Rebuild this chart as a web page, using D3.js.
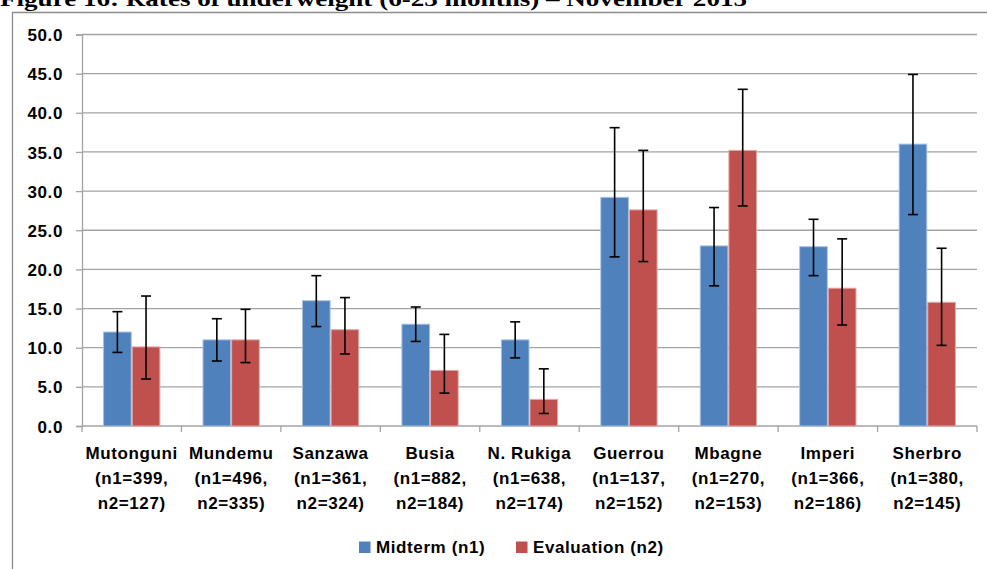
<!DOCTYPE html>
<html><head><meta charset="utf-8">
<script src="https://cdn.jsdelivr.net/npm/d3@7"></script>
<style>
html,body{margin:0;padding:0;background:#fff;}
svg{display:block;}
text{font-family:"Liberation Sans",Arial,sans-serif;font-weight:bold;fill:#000;}
</style></head>
<body>
<svg id="chart" width="987" height="569"></svg>
<script>
const categories = ["Mutonguni","Mundemu","Sanzawa","Busia","N. Rukiga","Guerrou","Mbagne","Imperi","Sherbro"];
const n1 = [399,496,361,882,638,137,270,366,380];
const n2 = [127,335,324,184,174,152,153,186,145];
const seriesNames = ["Midterm (n1)","Evaluation (n2)"];
const midterm    = [12.0, 11.0, 16.0, 13.0, 11.0, 29.2, 23.0, 22.9, 36.0];
const midLow     = [9.4, 8.3, 12.7, 10.8, 8.7, 21.6, 17.9, 19.2, 27.0];
const midHigh    = [14.6, 13.7, 19.2, 15.2, 13.3, 38.1, 27.9, 26.4, 44.9];
const evaluation = [10.1, 11.0, 12.3, 7.1, 3.4, 27.6, 35.2, 17.6, 15.8];
const evalLow    = [6.0, 8.1, 9.2, 4.2, 1.6, 21.0, 28.1, 12.9, 10.3];
const evalHigh   = [16.6, 14.9, 16.4, 11.7, 7.3, 35.2, 43.0, 23.9, 22.7];
const yTicks = [0,5,10,15,20,25,30,35,40,45,50];
const colors = ["#4F81BD","#C0504D"];
const strokes = ["#a7c0e0","#e0a9a7"];

const svg = d3.select("#chart");
const W = 987, H = 569;
const pLeft = 82, pRight = 977, pTop = 34.5, pBottom = 426;

// title
svg.append("text").attr("x", 0).attr("y", 5.5)
  .style("font-family","'Liberation Serif','Times New Roman',serif")
  .style("font-size","21px").attr("textLength", 747).attr("lengthAdjust","spacingAndGlyphs")
  .text("Figure 16: Rates of underweight (6-23 months) \u2013 November 2015");

// frame
svg.append("path").attr("d", `M12.5,${H} V12.5 H${W}`).attr("fill","none").attr("stroke","#8c8c8c").attr("stroke-width",1.3);

const y = d3.scaleLinear().domain([0,50]).range([pBottom, pTop]);
const x0 = d3.scaleBand().domain(categories).range([pLeft, pRight]).paddingInner(0).paddingOuter(0);
const bw = x0.bandwidth();
const x1 = d3.scaleBand().domain(seriesNames).range([bw*0.212, bw*0.788]).padding(0);

// gridlines
svg.append("g").selectAll("line").data(yTicks.filter(d=>d>0)).join("line")
  .attr("x1", pLeft).attr("x2", pRight).attr("y1", d=>y(d)).attr("y2", d=>y(d))
  .attr("stroke","#a3a3a3").attr("stroke-width",1.3);

// y axis
const yAxis = d3.axisLeft(y).tickValues(yTicks).tickFormat(d3.format(".1f")).tickSize(6).tickPadding(13);
const gy = svg.append("g").attr("transform",`translate(${pLeft},0)`).call(yAxis);
gy.select(".domain").attr("stroke","#a3a3a3").attr("stroke-width",1.3);
gy.selectAll(".tick line").attr("stroke","#a3a3a3").attr("stroke-width",1.3);
gy.selectAll(".tick text").style("font-size","17px").style("font-family","'Liberation Sans',Arial,sans-serif")
  .style("font-weight","bold").style("letter-spacing","0.6px").attr("fill","#000").attr("dy","0.36em");

// x axis baseline and ticks
svg.append("line").attr("x1",pLeft).attr("x2",pRight).attr("y1",pBottom).attr("y2",pBottom).attr("stroke","#a3a3a3").attr("stroke-width",1.3);
const bounds = categories.map(c=>x0(c)).concat([pRight]);
svg.append("g").selectAll("line").data(bounds).join("line")
  .attr("x1",d=>d).attr("x2",d=>d).attr("y1",pBottom).attr("y2",pBottom+6)
  .attr("stroke","#a3a3a3").attr("stroke-width",1.3);

// bars
const series = [
  {name: seriesNames[0], vals: midterm, lo: midLow, hi: midHigh},
  {name: seriesNames[1], vals: evaluation, lo: evalLow, hi: evalHigh}
];
series.forEach((s, si) => {
  const g = svg.append("g");
  g.selectAll("rect").data(categories).join("rect")
    .attr("x", (c)=>x0(c)+x1(s.name)+0.5)
    .attr("y", (c,i)=>y(s.vals[i]))
    .attr("width", x1.bandwidth()-1)
    .attr("height", (c,i)=>y(0)-y(s.vals[i]))
    .attr("fill", colors[si]).attr("stroke", strokes[si]).attr("stroke-width",1);
});
// error bars
series.forEach((s, si) => {
  const g = svg.append("g").attr("stroke","#000").attr("stroke-width",1.6);
  categories.forEach((c,i) => {
    const cx = x0(c)+x1(s.name)+x1.bandwidth()/2;
    g.append("line").attr("x1",cx).attr("x2",cx).attr("y1",y(s.lo[i])).attr("y2",y(s.hi[i]));
    g.append("line").attr("x1",cx-5).attr("x2",cx+5).attr("y1",y(s.lo[i])).attr("y2",y(s.lo[i]));
    g.append("line").attr("x1",cx-5).attr("x2",cx+5).attr("y1",y(s.hi[i])).attr("y2",y(s.hi[i]));
  });
});

// x labels
const lg = svg.append("g");
categories.forEach((c,i) => {
  const cx = x0(c)+bw/2;
  const t = lg.append("text").attr("text-anchor","middle").style("font-size","17px").style("letter-spacing","0.6px");
  [c, `(n1=${n1[i]},`, `n2=${n2[i]})`].forEach((line,k)=>{
    t.append("tspan").attr("x",cx).attr("y",458.5+k*25).text(line);
  });
});

// legend
const leg = svg.append("g");
const legX = [359, 516];
series.forEach((s,si)=>{
  leg.append("rect").attr("x",legX[si]).attr("y",541.5).attr("width",11.5).attr("height",11.5).attr("fill",colors[si]);
  leg.append("text").attr("x",legX[si]+17).attr("y",553).style("font-size","17px").style("letter-spacing","0.6px").text(s.name);
});
</script>
</body></html>
